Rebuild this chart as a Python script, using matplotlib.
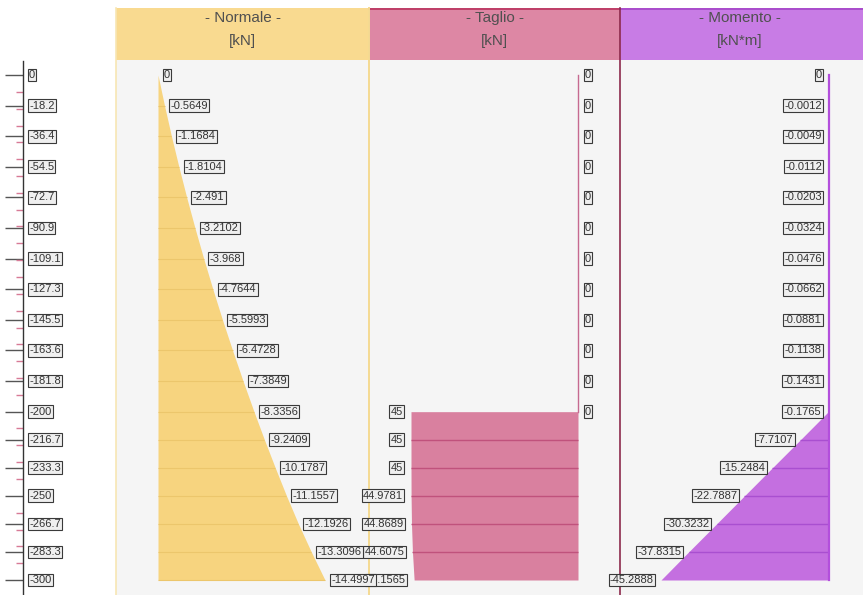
import matplotlib
matplotlib.use("Agg")
import matplotlib.pyplot as plt
from matplotlib.patches import Rectangle
import numpy as np

plt.rcParams['font.family'] = ['Liberation Sans', 'DejaVu Sans']

# ---- data -------------------------------------------------------------
stations = [0, -18.2, -36.4, -54.5, -72.7, -90.9, -109.1, -127.3, -145.5,
            -163.6, -181.8, -200, -216.7, -233.3, -250, -266.7, -283.3, -300]
station_labels = [f"{s:g}" for s in stations]

normale = [0, -0.5649, -1.1684, -1.8104, -2.491, -3.2102, -3.968, -4.7644,
           -5.5993, -6.4728, -7.3849, -8.3356, -9.2409, -10.1787, -11.1557,
           -12.1926, -13.3096, -14.4997]

# shear jumps at -200: the station appears twice
taglio_z = stations[:12] + stations[11:]
taglio = [0] * 12 + [45, 45, 45, 44.9781, 44.8689, 44.6075, 44.1565]

momento = [0, -0.0012, -0.0049, -0.0112, -0.0203, -0.0324, -0.0476, -0.0662,
           -0.0881, -0.1138, -0.1431, -0.1765, -7.7107, -15.2484, -22.7887,
           -30.3232, -37.8315, -45.2888]

titles = ["- Normale -", "- Taglio -", "- Momento -"]
units = ["[kN]", "[kN]", "[kN*m]"]

# ---- layout (pixels) --------------------------------------------------
W, H = 863, 595
HEAD_TOP, HEAD_BOT = 8, 60
Y0_PX, Y300_PX = 75, 580            # where z=0 and z=-300 sit
px_per_unit_y = (Y300_PX - Y0_PX) / 300.0
Z_TOP = (Y0_PX - HEAD_BOT) / px_per_unit_y
Z_BOT = -(H - Y0_PX) / px_per_unit_y

PANELS = [(116, 369), (369, 620), (620, 863)]
HEAD_COLORS = ["#f9da90", "#dd87a4", "#c87ce5"]
LABEL_BOX = dict(boxstyle="square,pad=0.12", fc="#efefef", ec="#3a3a3a", lw=0.8)
LABEL_KW = dict(fontsize=8, color="#333333", va="center",
                textcoords="offset pixels", bbox=LABEL_BOX)

fig = plt.figure(figsize=(W / 100, H / 100), dpi=100)
fig.patch.set_facecolor("white")


def pax(x0, y0, x1, y1, **kw):
    return fig.add_axes([x0 / W, 1 - y1 / H, (x1 - x0) / W, (y1 - y0) / H], **kw)


def value_axes(x0, x1, zorder):
    ax = pax(x0, HEAD_BOT, x1, H, zorder=zorder)
    ax.set_ylim(Z_BOT, Z_TOP)
    ax.set_facecolor("none")
    ax.axis("off")
    return ax


# ---- background, headers, separators ----------------------------------
bg = pax(0, 0, W, H, zorder=0)
bg.set_xlim(0, W)
bg.set_ylim(H, 0)
bg.axis("off")
bg.add_patch(Rectangle((PANELS[0][0], HEAD_BOT), W - PANELS[0][0], H - HEAD_BOT,
                       fc="#f5f5f5", ec="none"))
for (x0, x1), col, t, u in zip(PANELS, HEAD_COLORS, titles, units):
    bg.add_patch(Rectangle((x0, HEAD_TOP), x1 - x0, HEAD_BOT - HEAD_TOP,
                           fc=col, ec="none"))
    cx = (x0 + x1) / 2 - (2 if x1 == W else 0)
    bg.text(cx, 18, t, ha="center", va="center", fontsize=11, color="#505050")
    bg.text(cx, 41, u, ha="center", va="center", fontsize=11, color="#505050")
bg.plot([369, 620], [HEAD_TOP + 0.5] * 2, color="#b9325e", lw=1.2)
bg.plot([620, W], [HEAD_TOP + 0.5] * 2, color="#a444c8", lw=1.2)
bg.plot([116, 116], [HEAD_TOP, H], color="#f7e6b4", lw=1.2)
bg.plot([369, 369], [HEAD_TOP, H], color="#f4da92", lw=1.4)
bg.plot([620, 620], [HEAD_TOP, H], color="#8c2a4c", lw=1.2)

# ---- Normale ----------------------------------------------------------
n_max = max(abs(v) for v in normale)
sN = (325 - 158) / n_max
axN = value_axes(116, 369, 3)
axN.set_xlim((158 - 116) / sN, -(369 - 158) / sN)
axN.fill_betweenx(stations, 0, normale, color="#f7d47f", lw=0)
axN.hlines(stations[1:], 0, normale[1:], color="#ecc66c", lw=0.8)
for z, v in zip(stations, normale):
    axN.annotate(f"{v:g}", xy=(v, z), xytext=(6, 0), ha="left", **LABEL_KW)

# ---- Taglio -----------------------------------------------------------
t_max = max(abs(v) for v in taglio)
sT = (578 - 411) / t_max
axT = value_axes(369, 620, 2)
axT.set_xlim((578 - 369) / sT, -(620 - 578) / sT)
axT.fill_betweenx(taglio_z, 0, taglio, color="#d9809f", lw=0)
nz = [(z, v) for z, v in zip(taglio_z, taglio) if v != 0]
axT.hlines([z for z, _ in nz][1:-1], 0, [v for _, v in nz][1:-1],
           color="#c0527c", lw=1.0)
zero_part = [z for z, v in zip(taglio_z, taglio) if v == 0]
axT.plot([0] * len(zero_part), zero_part, color="#c66a90", lw=1.0)
for z, v in zip(taglio_z, taglio):
    if v == 0:
        axT.annotate(f"{v:g}", xy=(v, z), xytext=(7, 0), ha="left", **LABEL_KW)
    else:
        axT.annotate(f"{v:g}", xy=(v, z), xytext=(-8, 0), ha="right", **LABEL_KW)

# ---- Momento ----------------------------------------------------------
m_max = max(abs(v) for v in momento)
sM = (829 - 661) / m_max
axM = value_axes(620, W, 2)
axM.set_xlim(-(829 - 620) / sM, (W - 829) / sM)
axM.fill_betweenx(stations, 0, momento, color="#c46fe0", lw=0)
big = [(z, v) for z, v in zip(stations, momento) if abs(v) > 1]
axM.hlines([z for z, _ in big][:-1], [v for _, v in big][:-1], 0,
           color="#a94fd0", lw=1.0)
axM.plot([0] * len(stations), stations, color="#b34fdc", lw=1.6)
for z, v in zip(stations, momento):
    axM.annotate(f"{v:g}", xy=(v, z), xytext=(-7, 0), ha="right", **LABEL_KW)

# ---- station axis -----------------------------------------------------
axL = pax(23, 61, 116, H, zorder=2)
axL.set_ylim(Z_BOT, Z_TOP - (1 / px_per_unit_y))
axL.set_facecolor("none")
for side in ("top", "right", "bottom"):
    axL.spines[side].set_visible(False)
axL.spines["left"].set_color("#333333")
axL.spines["left"].set_linewidth(1.0)
axL.set_xticks([])
axL.set_yticks(stations)
axL.set_yticks(np.arange(0, -301, -10), minor=True)
axL.tick_params(axis="y", which="major", length=13, width=1.0,
                color="#555555", labelleft=False)
axL.tick_params(axis="y", which="minor", length=5, width=1.0,
                color="#d77a96", labelleft=False)
for z, lab in zip(stations, station_labels):
    axL.annotate(lab, xy=(0, z), xycoords=("axes fraction", "data"),
                 xytext=(6, 0), ha="left", **LABEL_KW)

fig.savefig("out.png", dpi=100)
